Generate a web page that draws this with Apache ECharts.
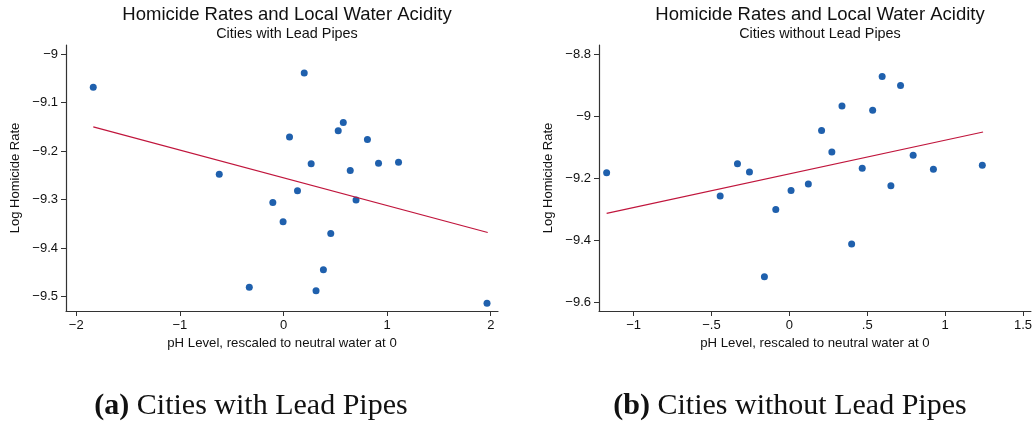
<!DOCTYPE html>
<html>
<head>
<meta charset="utf-8">
<script src="https://cdn.jsdelivr.net/npm/echarts@6/dist/echarts.min.js"></script>
<style>
  html, body { margin: 0; padding: 0; background: #fff; }
  #main { width: 1035px; height: 425px; }
</style>
</head>
<body>
<div id="main"></div>
<script>
// cities with lead pipes: pH (x) and log homicide rate (y)
const leadX = [-1.836, -0.620, 0.200, 0.577, 0.528, 0.058, 0.810, 0.267, 0.917, 1.110,
               0.644, 0.135, -0.103, -0.004, 0.700, 0.456, 0.385, -0.330, 0.314, 1.964];
const leadY = [-9.068, -9.248, -9.039, -9.141, -9.158, -9.171, -9.176, -9.226, -9.225, -9.223,
               -9.240, -9.282, -9.306, -9.346, -9.301, -9.370, -9.445, -9.481, -9.488, -9.514];
// fitted line end points
const leadFitX = [-1.836, 1.971];
const leadFitY = [-9.150, -9.368];

// cities without lead pipes
const noLeadX = [-1.173, -0.333, -0.256, 0.596, 0.714, 0.338, 0.535, 0.207, 0.273, 0.795,
                 0.468, 0.925, 1.239, -0.444, -0.087, -0.160, 0.011, 0.122, 0.652, 0.400];
const noLeadY = [-9.182, -9.153, -9.180, -8.872, -8.901, -8.967, -8.981, -9.046, -9.115, -9.126,
                 -9.168, -9.171, -9.158, -9.257, -9.300, -9.517, -9.239, -9.218, -9.224, -9.411];
const noLeadFitX = [-1.173, 1.244];
const noLeadFitY = [-9.313, -9.051];

// tick values and labels
const leadXTicks = [-2, -1, 0, 1, 2];
const leadXLabels = ['\u22122', '\u22121', '0', '1', '2'];
const leadYTicks = [-9, -9.1, -9.2, -9.3, -9.4, -9.5];
const leadYLabels = ['\u22129', '\u22129.1', '\u22129.2', '\u22129.3', '\u22129.4', '\u22129.5'];
const noLeadXTicks = [-1, -0.5, 0, 0.5, 1, 1.5];
const noLeadXLabels = ['\u22121', '\u2212.5', '0', '.5', '1', '1.5'];
const noLeadYTicks = [-8.8, -9, -9.2, -9.4, -9.6];
const noLeadYLabels = ['\u22128.8', '\u22129', '\u22129.2', '\u22129.4', '\u22129.6'];

const titleText = 'Homicide Rates and Local Water Acidity';
const subTitles = ['Cities with Lead Pipes', 'Cities without Lead Pipes'];
const captions = [['(a)', 'Cities with Lead Pipes'], ['(b)', 'Cities without Lead Pipes']];
const xName = 'pH Level, rescaled to neutral water at 0';
const yName = 'Log Homicide Rate';

const font = 'Liberation Sans, Arial, sans-serif';
const axisColor = '#333';
const dotColor = '#1f60ad';
const lineColor = '#c0153c';

function zip(xs, ys) {
    return xs.map((x, i) => [x, ys[i]]);
}

function labelFor(ticks, labels) {
    return function (v) {
        for (let i = 0; i < ticks.length; i++) {
            if (Math.abs(ticks[i] - v) < 1e-6) return labels[i];
        }
        return '';
    };
}

function makeX(idx, min, max, ticks, labels) {
    return {
        type: 'value', gridIndex: idx, min: min, max: max,
        name: xName, nameLocation: 'middle', nameGap: 26,
        nameTextStyle: { fontFamily: font, fontSize: 13.2, color: '#111' },
        axisLine: { show: true, onZero: false, lineStyle: { color: axisColor, width: 1.2 } },
        axisTick: { show: true, length: 5, customValues: ticks, lineStyle: { color: axisColor } },
        axisLabel: { customValues: ticks, formatter: labelFor(ticks, labels), margin: 8,
                     fontFamily: font, fontSize: 13, color: '#111' },
        splitLine: { show: false }
    };
}

function makeY(idx, min, max, ticks, labels, gap) {
    return {
        type: 'value', gridIndex: idx, min: min, max: max,
        name: yName, nameLocation: 'middle', nameGap: gap,
        nameTextStyle: { fontFamily: font, fontSize: 13, color: '#111' },
        axisLine: { show: true, onZero: false, lineStyle: { color: axisColor, width: 1.2 } },
        axisTick: { show: true, length: 5, customValues: ticks, lineStyle: { color: axisColor } },
        axisLabel: { customValues: ticks, formatter: labelFor(ticks, labels), margin: 8,
                     fontFamily: font, fontSize: 13, color: '#111' },
        splitLine: { show: false }
    };
}

// latex-style caption under each panel
function caption(cx, c) {
    return {
        type: 'text', x: cx, y: 406,
        style: {
            text: '{b|' + c[0] + '} ' + c[1], fill: '#111',
            font: '30px "Liberation Serif", serif',
            align: 'center', verticalAlign: 'middle',
            rich: { b: { fontWeight: 'bold', fontSize: 30, fontFamily: 'Liberation Serif' } }
        }
    };
}

const chart = echarts.init(document.getElementById('main'));
chart.setOption({
    backgroundColor: '#fff',
    animation: false,
    title: [
        { text: titleText, left: 282, top: 0, textAlign: 'center',
          textStyle: { fontFamily: font, fontSize: 18.5, fontWeight: 'normal', color: '#111' } },
        { text: subTitles[0], left: 282, top: 22, textAlign: 'center',
          textStyle: { fontFamily: font, fontSize: 14.4, fontWeight: 'normal', color: '#111' } },
        { text: titleText, left: 815, top: 0, textAlign: 'center',
          textStyle: { fontFamily: font, fontSize: 18.5, fontWeight: 'normal', color: '#111' } },
        { text: subTitles[1], left: 815, top: 22, textAlign: 'center',
          textStyle: { fontFamily: font, fontSize: 14.4, fontWeight: 'normal', color: '#111' } }
    ],
    grid: [
        { left: 66, top: 45, width: 432, height: 266 },
        { left: 599, top: 45, width: 433, height: 266 }
    ],
    xAxis: [
        makeX(0, -2.099, 2.07, leadXTicks, leadXLabels),
        makeX(1, -1.222, 1.551, noLeadXTicks, noLeadXLabels)
    ],
    yAxis: [
        makeY(0, -9.530, -8.981, leadYTicks, leadYLabels, 44),
        makeY(1, -9.627, -8.771, noLeadYTicks, noLeadYLabels, 44)
    ],
    series: [
        { type: 'scatter', xAxisIndex: 0, yAxisIndex: 0, data: zip(leadX, leadY),
          symbolSize: 7, itemStyle: { color: dotColor, opacity: 1 } },
        { type: 'line', xAxisIndex: 0, yAxisIndex: 0, data: zip(leadFitX, leadFitY),
          showSymbol: false, lineStyle: { color: lineColor, width: 1.2 } },
        { type: 'scatter', xAxisIndex: 1, yAxisIndex: 1, data: zip(noLeadX, noLeadY),
          symbolSize: 7, itemStyle: { color: dotColor, opacity: 1 } },
        { type: 'line', xAxisIndex: 1, yAxisIndex: 1, data: zip(noLeadFitX, noLeadFitY),
          showSymbol: false, lineStyle: { color: lineColor, width: 1.2 } }
    ],
    graphic: [caption(251, captions[0]), caption(790, captions[1])]
});
</script>
</body>
</html>
